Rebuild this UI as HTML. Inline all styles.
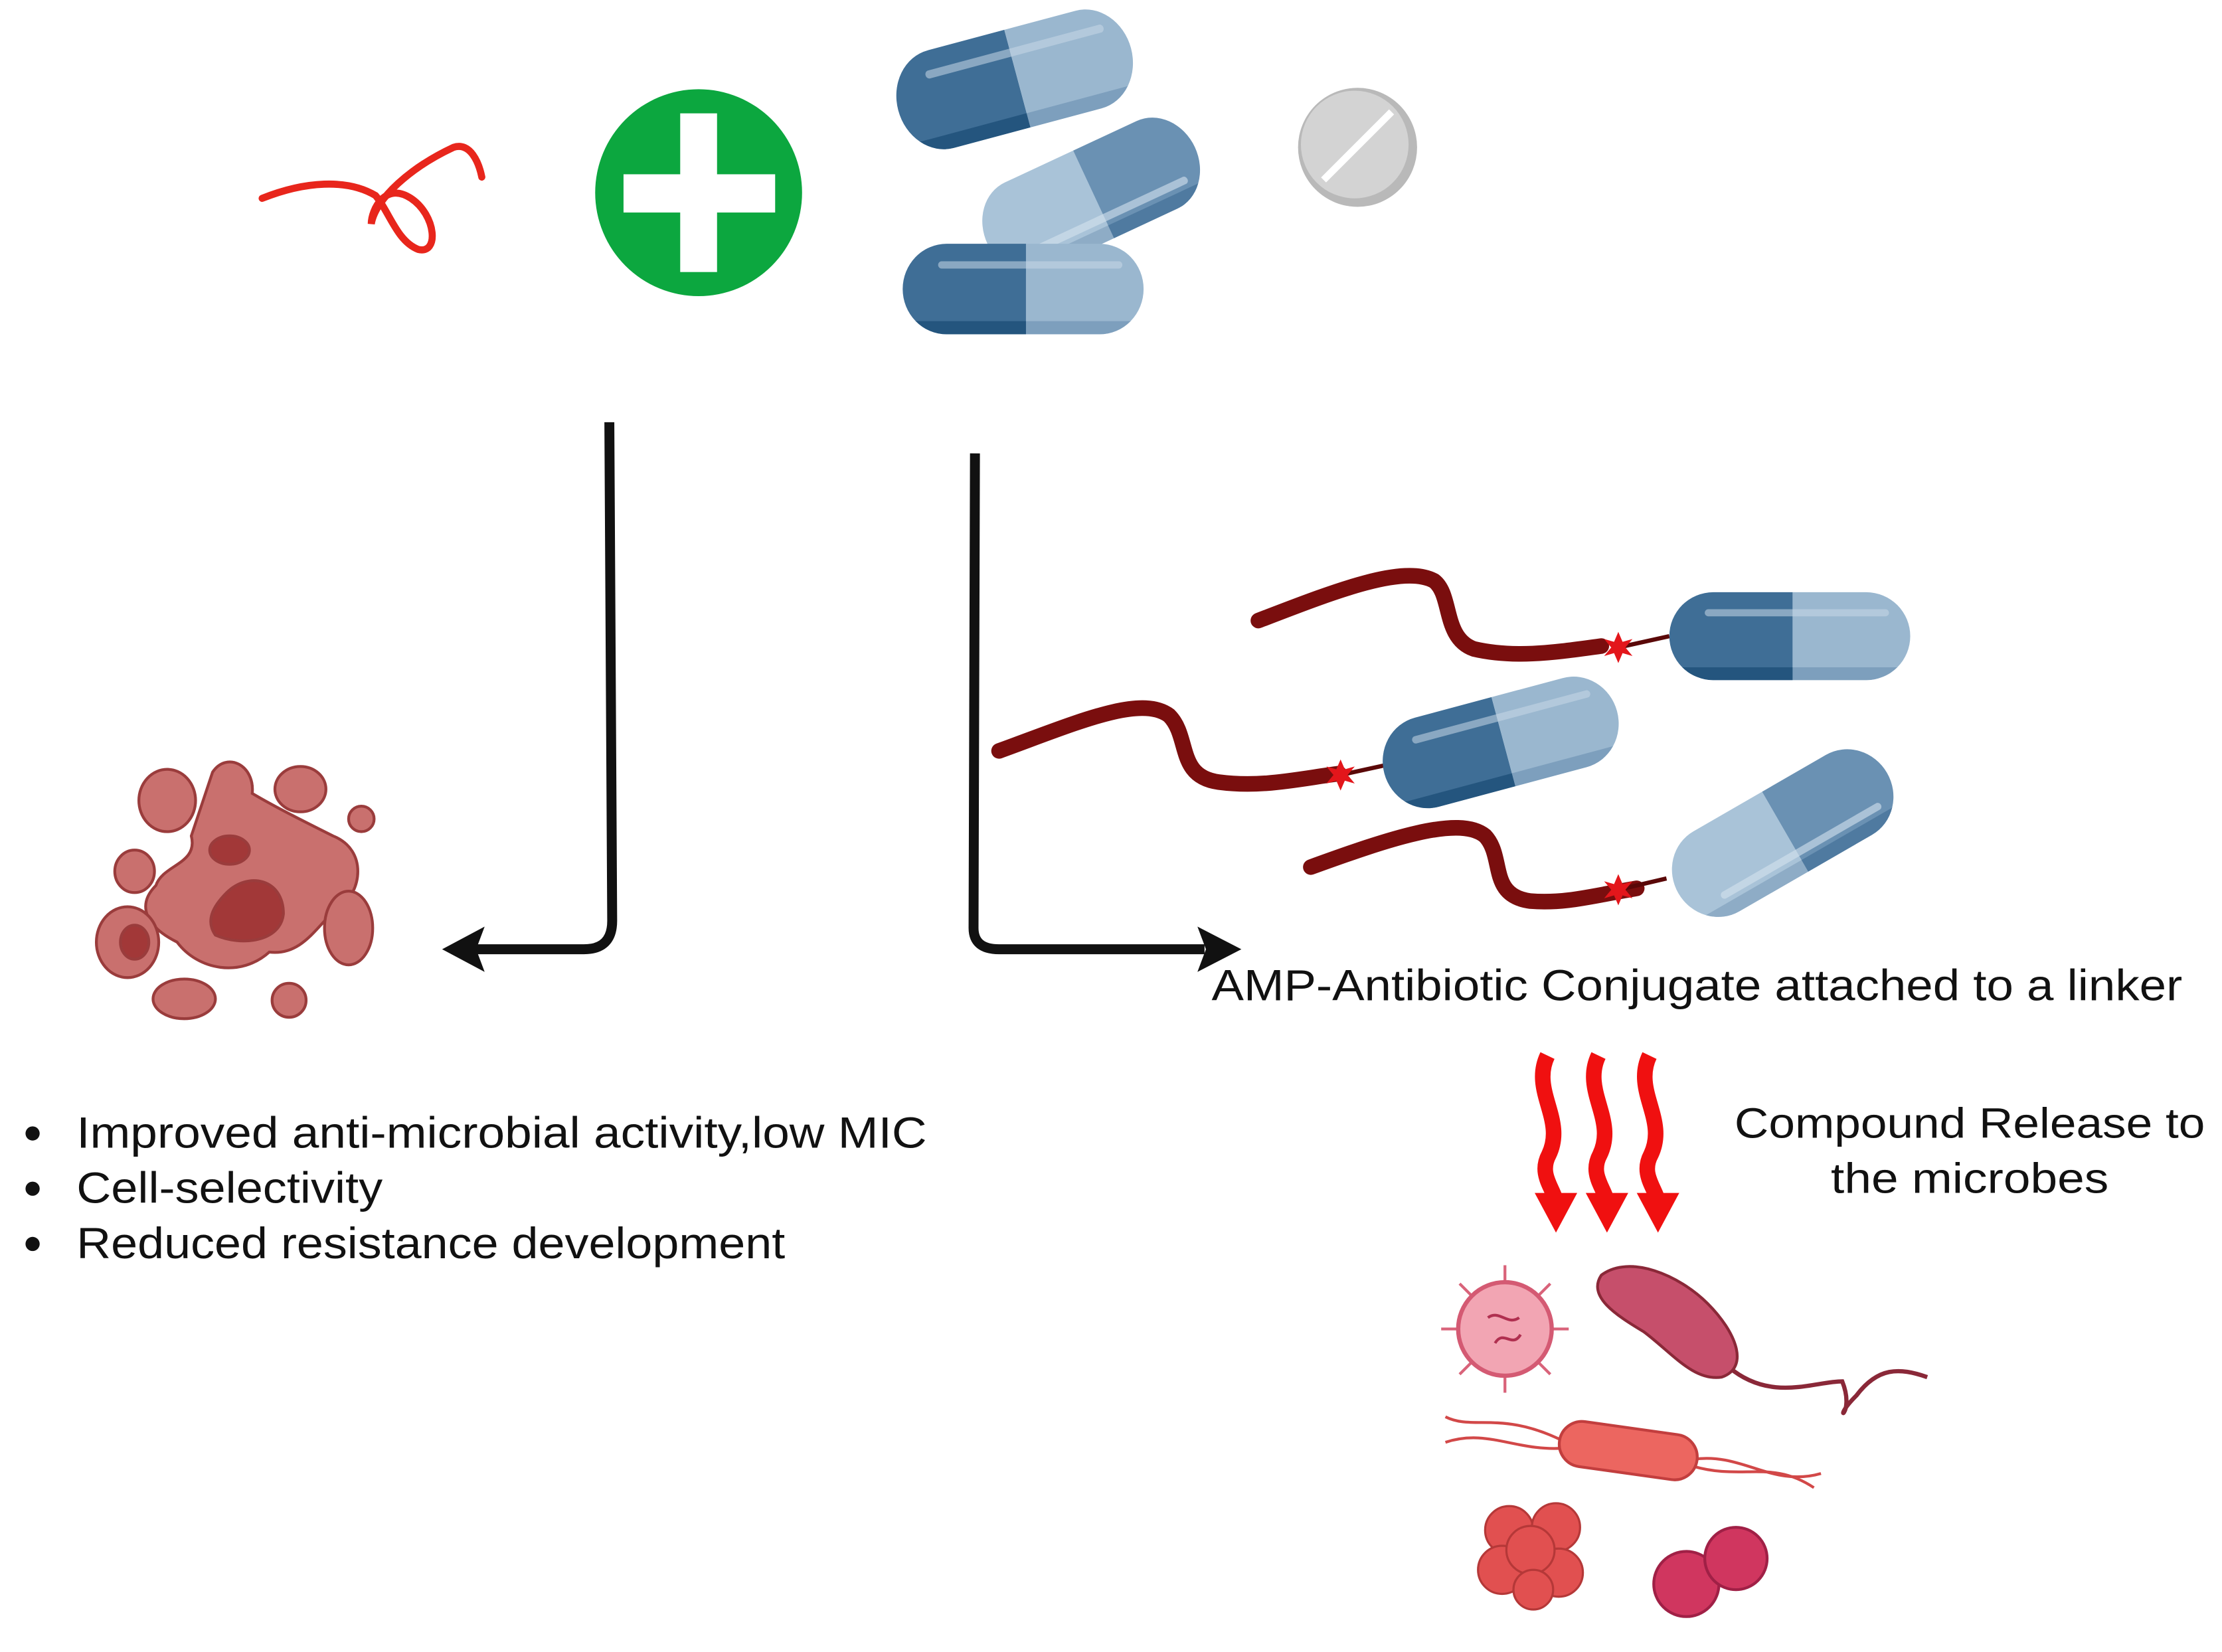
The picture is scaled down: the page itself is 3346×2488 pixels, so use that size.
<!DOCTYPE html>
<html><head><meta charset="utf-8"><style>
html,body{margin:0;padding:0;background:#fff;}
svg{display:block;}
text{font-family:"Liberation Sans",sans-serif;fill:#111;}
</style></head><body>
<svg width="3346" height="2488" viewBox="0 0 1568 1166" preserveAspectRatio="none" xmlns="http://www.w3.org/2000/svg">
<defs>
<clipPath id="cap"><rect x="-85" y="-31" width="170" height="62" rx="31"/></clipPath>
<g id="capsule">
  <g clip-path="url(#cap)">
    <rect x="-90" y="-35" width="92" height="70" fill="#3f6e96"/>
    <rect x="2" y="-35" width="90" height="70" fill="#9ab7cf"/>
    <rect x="-90" y="22" width="92" height="12" fill="#24557e"/>
    <rect x="2" y="22" width="90" height="12" fill="#7d9fbd"/>
  </g>
  <rect x="-60" y="-19" width="130" height="5" rx="2.5" fill="#c8d9e7" opacity="0.55"/>
</g>
<g id="capsuleR">
  <g clip-path="url(#cap)">
    <rect x="-90" y="-35" width="92" height="70" fill="#a9c3d8"/>
    <rect x="2" y="-35" width="90" height="70" fill="#6a91b3"/>
    <rect x="-90" y="22" width="92" height="12" fill="#8eacc6"/>
    <rect x="2" y="22" width="90" height="12" fill="#4f7aa0"/>
  </g>
  <rect x="-60" y="14" width="130" height="5" rx="2.5" fill="#d6e3ee" opacity="0.6"/>
</g>
<polygon id="star" points="0,-11 3,-4 10,-6 5,0 10,6 3,4 0,11 -3,4 -10,6 -5,0 -10,-6 -3,-4" fill="#e3161b"/>
</defs>

<!-- red squiggle -->
<path d="M185,140 C215,128 245,126 265,138 C275,150 280,170 295,176 C310,180 308,152 290,140 C272,128 262,148 262,158 C265,140 290,118 320,104 C332,100 338,115 340,125" fill="none" stroke="#e8261c" stroke-width="5" stroke-linecap="round"/>

<!-- green plus -->
<circle cx="493" cy="136" r="73" fill="#0ca73f"/>
<rect x="440" y="123" width="107" height="27" fill="#fff"/>
<rect x="480" y="80" width="26" height="112" fill="#fff"/>

<!-- capsules top -->
<use href="#capsule" transform="translate(716,56) rotate(-15) scale(1,1.15)"/>
<use href="#capsuleR" transform="translate(770,138) rotate(-25) scale(0.95,1.1)"/>
<use href="#capsule" transform="translate(722,204) scale(1,1.03)"/>

<!-- pill -->
<circle cx="958" cy="104" r="42" fill="#b9b9b9"/>
<circle cx="956" cy="102" r="38" fill="#d3d3d3"/>
<line x1="934" y1="127" x2="982" y2="79" stroke="#fff" stroke-width="5"/>

<!-- arrows -->
<path d="M430,298 L432,650 Q432,670 412,670 L335,670" fill="none" stroke="#111" stroke-width="7"/>
<polygon points="312,670 342,654 336,670 342,686" fill="#111"/>
<path d="M688,320 L687,655 Q687,670 705,670 L850,670" fill="none" stroke="#111" stroke-width="7"/>
<polygon points="876,670 845,654 851,670 845,686" fill="#111"/>

<!-- blob cell -->
<g stroke="#9a3c3c" stroke-width="2">
<path d="M150,545 C160,530 180,540 178,560 C195,570 215,580 235,590 C260,600 255,630 240,640 C225,650 215,675 190,672 C170,690 140,685 125,665 C105,655 95,640 110,625 C115,610 140,610 135,590 C140,575 145,560 150,545Z" fill="#c9706e"/>
<ellipse cx="118" cy="565" rx="20" ry="22" fill="#c9706e"/>
<ellipse cx="212" cy="557" rx="18" ry="16" fill="#c9706e"/>
<circle cx="255" cy="578" r="9" fill="#c9706e"/>
<ellipse cx="95" cy="615" rx="14" ry="15" fill="#c9706e"/>
<ellipse cx="90" cy="665" rx="22" ry="25" fill="#c9706e"/>
<ellipse cx="246" cy="655" rx="17" ry="26" fill="#c9706e"/>
<ellipse cx="130" cy="705" rx="22" ry="14" fill="#c9706e"/>
<circle cx="204" cy="706" r="12" fill="#c9706e"/>
<path d="M160,630 C175,615 200,620 200,645 C198,665 170,668 152,660 C145,650 150,640 160,630Z" fill="#a23838"/>
<ellipse cx="162" cy="600" rx="14" ry="10" fill="#a23838"/>
<ellipse cx="95" cy="665" rx="10" ry="12" fill="#a23838"/>
</g>

<!-- conjugates -->
<g fill="none" stroke="#7a0e0e" stroke-width="11" stroke-linecap="round">
<path d="M888,438 C940,418 990,398 1012,410 C1025,420 1018,450 1040,458 C1070,465 1100,460 1130,456"/>
<path d="M705,530 C760,510 805,490 825,505 C840,520 830,548 860,552 C890,556 915,550 945,546"/>
<path d="M925,612 C980,592 1030,575 1048,590 C1062,605 1050,632 1080,636 C1105,638 1125,632 1155,627"/>
</g>
<g stroke="#5a0808" stroke-width="3">
<line x1="1142" y1="457" x2="1178" y2="449"/>
<line x1="946" y1="547" x2="978" y2="540"/>
<line x1="1142" y1="628" x2="1176" y2="620"/>
</g>
<use href="#star" transform="translate(1142,457)"/>
<use href="#star" transform="translate(946,547)"/>
<use href="#star" transform="translate(1142,628)"/>
<use href="#capsule" transform="translate(1263,449) scale(1,1)"/>
<use href="#capsule" transform="translate(1059,524) rotate(-15) scale(1,1.05)"/>
<use href="#capsuleR" transform="translate(1258,588) rotate(-30) scale(1,1.05)"/>

<text x="855" y="706" font-size="31" textLength="685" lengthAdjust="spacingAndGlyphs">AMP-Antibiotic Conjugate attached to a linker</text>

<!-- wavy arrows -->
<g fill="none" stroke="#f01010" stroke-width="11">
<path d="M1092,745 C1080,770 1105,790 1093,815 C1085,830 1098,840 1098,850"/>
<path d="M1128,745 C1116,770 1141,790 1129,815 C1121,830 1134,840 1134,850"/>
<path d="M1164,745 C1152,770 1177,790 1165,815 C1157,830 1170,840 1170,850"/>
</g>
<g fill="#f01010">
<polygon points="1083,842 1113,842 1098,870"/>
<polygon points="1119,842 1149,842 1134,870"/>
<polygon points="1155,842 1185,842 1170,870"/>
</g>

<text x="1390" y="803" font-size="30" text-anchor="middle" textLength="332" lengthAdjust="spacingAndGlyphs">Compound Release to</text>
<text x="1390" y="842" font-size="30" text-anchor="middle" textLength="196" lengthAdjust="spacingAndGlyphs">the microbes</text>

<!-- bullets -->
<g fill="#111"><circle cx="23" cy="800" r="5"/><circle cx="23" cy="839" r="5"/><circle cx="23" cy="878" r="5"/></g>
<text x="54" y="810" font-size="31" textLength="600" lengthAdjust="spacingAndGlyphs">Improved anti-microbial activity,low MIC</text>
<text x="54" y="849" font-size="31" textLength="216" lengthAdjust="spacingAndGlyphs">Cell-selectivity</text>
<text x="54" y="888" font-size="31" textLength="500" lengthAdjust="spacingAndGlyphs">Reduced resistance development</text>

<!-- microbes -->
<g stroke="#d9637a" stroke-width="2">
<line x1="1062" y1="893" x2="1062" y2="983"/><line x1="1017" y1="938" x2="1107" y2="938"/>
<line x1="1030" y1="906" x2="1094" y2="970"/><line x1="1094" y1="906" x2="1030" y2="970"/>
</g>
<circle cx="1062" cy="938" r="33" fill="#f2a5b3" stroke="#d45a73" stroke-width="3"/>
<path d="M1050,930 c8,-6 14,6 22,0 M1055,948 c6,-10 12,4 18,-6" stroke="#b03050" stroke-width="2" fill="none"/>
<path d="M1220,965 C1250,990 1280,975 1300,975 C1310,1000 1290,1005 1310,985 C1325,965 1340,965 1360,972" fill="none" stroke="#8a2838" stroke-width="3"/>
<path d="M1130,900 C1150,885 1185,900 1205,920 C1225,940 1235,965 1215,972 C1195,975 1180,955 1160,940 C1140,928 1120,915 1130,900Z" fill="#c64f6b" stroke="#8a2838" stroke-width="2"/>
<g fill="none" stroke="#d24848" stroke-width="2">
<path d="M1020,1000 C1040,1010 1060,995 1105,1018"/><path d="M1020,1018 C1050,1008 1070,1025 1105,1022"/>
<path d="M1195,1030 C1230,1025 1250,1050 1285,1040"/><path d="M1195,1035 C1230,1045 1250,1030 1280,1050"/>
</g>
<rect x="1100" y="1008" width="98" height="32" rx="16" fill="#ec6660" stroke="#c23e3e" stroke-width="2" transform="rotate(8 1150 1024)"/>
<g fill="#e15050" stroke="#b53838" stroke-width="1.5">
<circle cx="1065" cy="1080" r="17"/><circle cx="1098" cy="1078" r="17"/><circle cx="1060" cy="1108" r="17"/>
<circle cx="1100" cy="1110" r="17"/><circle cx="1080" cy="1094" r="17"/><circle cx="1082" cy="1122" r="14"/>
</g>
<g fill="#d0365f" stroke="#a02046" stroke-width="2">
<circle cx="1190" cy="1118" r="23"/><circle cx="1225" cy="1100" r="22"/>
</g>
</svg>
</body></html>
